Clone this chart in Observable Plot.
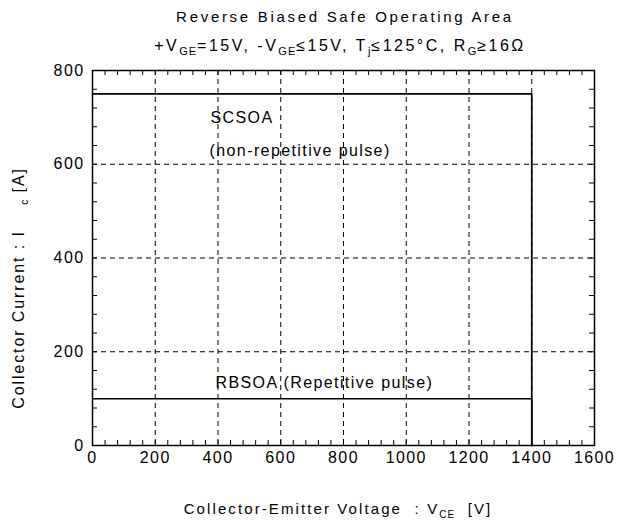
<!DOCTYPE html>
<html>
<head>
<meta charset="utf-8">
<script src="https://cdn.jsdelivr.net/npm/d3@7"></script>
<script src="https://cdn.jsdelivr.net/npm/@observablehq/plot@0.6"></script>
<style>
  html, body { margin: 0; padding: 0; background: #fff; }
  svg text { letter-spacing: 1.4px; }
</style>
</head>
<body>
<div id="chart"></div>
<script>
// ---- data ----
const xMajorTicks = [0, 200, 400, 600, 800, 1000, 1200, 1400, 1600];
const yMajorTicks = [0, 200, 400, 600, 800];
const xGridLines = [200, 400, 600, 800, 1000, 1200, 1400];
const yGridLines = [200, 400, 600];
const xMinorTicks = d3.range(0, 1601, 40);
const yMinorTicks = d3.range(0, 801, 40);

const scsoaVoltage = [0, 1400, 1400];
const scsoaCurrent = [750, 750, 0];
const rbsoaVoltage = [0, 1400, 1400];
const rbsoaCurrent = [100, 100, 0];

const labelText = ["SCSOA", "(non-repetitive pulse)", "RBSOA (Repetitive pulse)"];
const labelX = [376, 373, 392];
const labelY = [700, 629, 134];

const scsoa = scsoaVoltage.map((v, i) => ({v, i: scsoaCurrent[i]}));
const rbsoa = rbsoaVoltage.map((v, i) => ({v, i: rbsoaCurrent[i]}));
const labels = labelText.map((t, k) => ({t, x: labelX[k], y: labelY[k]}));

const W = 633, H = 523;
const mTop = 70, mLeft = 92, mRight = 39, mBottom = 78;
const innerW = W - mLeft - mRight, innerH = H - mTop - mBottom;
const tickLen = 5;

const chart = Plot.plot({
  width: W,
  height: H,
  marginTop: mTop,
  marginLeft: mLeft,
  marginRight: mRight,
  marginBottom: mBottom,
  style: {fontFamily: "'Liberation Sans', Arial, sans-serif", fontSize: "16px", color: "#000", background: "#fff"},
  x: {domain: [0, 1600]},
  y: {domain: [0, 800]},
  axis: null,
  marks: [
    Plot.gridX(xGridLines, {stroke: "#000", strokeOpacity: 1, strokeWidth: 1, strokeDasharray: "5,4"}),
    Plot.gridY(yGridLines, {stroke: "#000", strokeOpacity: 1, strokeWidth: 1, strokeDasharray: "5,4"}),
    // inward minor ticks on all four sides
    Plot.tickX(xMinorTicks, {x: d => d, insetTop: innerH - tickLen, stroke: "#000"}),
    Plot.tickX(xMinorTicks, {x: d => d, insetBottom: innerH - tickLen, stroke: "#000"}),
    Plot.tickY(yMinorTicks, {y: d => d, insetRight: innerW - tickLen, stroke: "#000"}),
    Plot.tickY(yMinorTicks, {y: d => d, insetLeft: innerW - tickLen, stroke: "#000"}),
    Plot.axisX(xMajorTicks, {anchor: "bottom", tickSize: 0, tickPadding: 6, label: null, fontSize: 16, tickFormat: d => String(d)}),
    Plot.axisY(yMajorTicks, {anchor: "left", tickSize: 0, tickPadding: 8, label: null, fontSize: 16, tickFormat: d => String(d)}),
    Plot.line(rbsoa, {x: "v", y: "i", stroke: "#000", strokeWidth: 1.5}),
    Plot.line(scsoa, {x: "v", y: "i", stroke: "#000", strokeWidth: 1.7}),
    Plot.text(labels, {x: "x", y: "y", text: "t", textAnchor: "start", fontSize: 16, fill: "#000"}),
    Plot.frame({stroke: "#000", strokeWidth: 1.5})
  ]
});
document.getElementById("chart").appendChild(chart);

// ---- titles and axis labels with subscripts ----
const svg = d3.select(chart);
const ff = "'Liberation Sans', Arial, sans-serif";
function addText(x, y, parts, opts = {}) {
  const size = opts.size || 15, sub = opts.sub || 10, shift = opts.shift || 5;
  const t = svg.append("text")
    .attr("x", x).attr("y", y)
    .attr("text-anchor", "middle")
    .attr("dominant-baseline", "middle")
    .attr("font-family", ff)
    .attr("font-size", size)
    .attr("fill", "#000")
    .style("letter-spacing", (opts.ls || 2) + "px");
  if (opts.rotate) t.attr("transform", `rotate(${opts.rotate},${x},${y})`);
  let lowered = false;
  parts.forEach(p => {
    if (Array.isArray(p)) {
      t.append("tspan").attr("font-size", sub).attr("dy", shift).style("letter-spacing", "1px").text(p[0]);
      lowered = true;
    } else {
      const s = t.append("tspan").text(p);
      if (lowered) { s.attr("dy", -shift); lowered = false; }
    }
  });
  return t;
}
addText(345, 18, ["Reverse Biased Safe Operating Area"], {ls: 2.7});
addText(340, 47, ["+V", ["GE"], "=15V, -V", ["GE"], "≤15V, T", ["j"], "≤125°C, R", ["G"], "≥16Ω"], {size: 16, sub: 11, ls: 2.5});
addText(338, 510, ["Collector-Emitter Voltage  : V", ["CE"], "  [V]"], {size: 15, ls: 2.1});
addText(20, 288, ["Collector Current : I    ", ["c"], " [A]"], {size: 16, ls: 1.9, rotate: -90});
</script>
</body>
</html>
